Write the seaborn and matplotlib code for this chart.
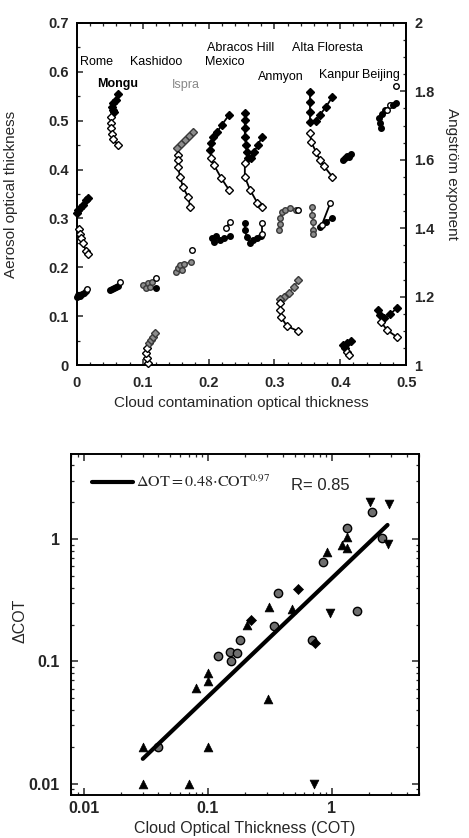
import numpy as np
import pandas as pd
import matplotlib
matplotlib.use("Agg")
import matplotlib.pyplot as plt
from matplotlib.ticker import MultipleLocator, FixedLocator, FixedFormatter, FuncFormatter, LogLocator, NullFormatter
import seaborn as sns

sns.set_style("ticks")
plt.rcParams['font.family'] = ['Liberation Sans', 'DejaVu Sans']
plt.rcParams['mathtext.fontset'] = 'stix'

# ---------------- top panel data (x = cloud contamination OT) ----------------
# AOT series (left axis, circles) and Angstrom series (right axis, diamonds)
rome_aot_f_x = [0.000, 0.002, 0.005, 0.008, 0.011, 0.014]
rome_aot_f_y = [0.139, 0.143, 0.141, 0.145, 0.147, 0.151]
rome_aot_o_x = [0.015]
rome_aot_o_y = [0.156]
rome_ang_f_x = [0.000, 0.002, 0.005, 0.009, 0.014, 0.017]
rome_ang_f_y = [1.444, 1.453, 1.459, 1.468, 1.482, 1.488]
rome_ang_o_x = [0.003, 0.005, 0.006, 0.009, 0.014, 0.017]
rome_ang_o_y = [1.398, 1.383, 1.371, 1.357, 1.333, 1.325]

mongu_ang_f_x = [0.062, 0.059, 0.055, 0.053, 0.055, 0.056]
mongu_ang_f_y = [1.792, 1.775, 1.766, 1.754, 1.746, 1.740]
mongu_ang_o_x = [0.052, 0.052, 0.052, 0.053, 0.055, 0.062]
mongu_ang_o_y = [1.725, 1.708, 1.693, 1.675, 1.661, 1.643]
mongu_aot_f_x = [0.050, 0.053, 0.056, 0.059, 0.062]
mongu_aot_f_y = [0.153, 0.156, 0.158, 0.160, 0.162]
mongu_aot_o_x = [0.065]
mongu_aot_o_y = [0.170]

kash_aot_g_x = [0.100, 0.105, 0.108, 0.111, 0.114]
kash_aot_g_y = [0.164, 0.158, 0.168, 0.160, 0.170]
kash_aot_f_x = [0.120]
kash_aot_f_y = [0.158]
kash_aot_o_x = [0.120]
kash_aot_o_y = [0.178]
kash_ang_o_x = [0.108, 0.106, 0.105, 0.106]
kash_ang_o_y = [1.006, 1.020, 1.035, 1.050]
kash_ang_g_x = [0.109, 0.112, 0.116, 0.119]
kash_ang_g_y = [1.064, 1.073, 1.082, 1.094]

ispra_ang_g_x = [0.176, 0.170, 0.164, 0.158, 0.152]
ispra_ang_g_y = [1.681, 1.670, 1.658, 1.646, 1.635]
ispra_ang_o_x = [0.153, 0.153, 0.153, 0.157, 0.161, 0.169, 0.172]
ispra_ang_o_y = [1.614, 1.599, 1.579, 1.550, 1.520, 1.491, 1.462]
ispra_aot_g_x = [0.150, 0.153, 0.157, 0.160, 0.163, 0.173]
ispra_aot_g_y = [0.190, 0.199, 0.205, 0.194, 0.207, 0.211]
ispra_aot_o_x = [0.175]
ispra_aot_o_y = [0.235]

abr_ang_f_x = [0.231, 0.220, 0.213, 0.207, 0.204, 0.202]
abr_ang_f_y = [1.731, 1.702, 1.681, 1.667, 1.649, 1.629]
abr_ang_o_x = [0.204, 0.208, 0.219, 0.231]
abr_ang_o_y = [1.605, 1.585, 1.547, 1.512]
abr_aot_f_x = [0.205, 0.208, 0.211, 0.217, 0.223, 0.233]
abr_aot_f_y = [0.260, 0.252, 0.264, 0.256, 0.260, 0.264]
abr_aot_o_x = [0.226, 0.233]
abr_aot_o_y = [0.280, 0.293]

mex_ang_f_x = [0.255, 0.255, 0.255, 0.255, 0.257, 0.258, 0.260]
mex_ang_f_y = [1.737, 1.716, 1.693, 1.667, 1.643, 1.623, 1.605]
mex_ang_b_x = [0.281, 0.275, 0.269, 0.264]
mex_ang_b_y = [1.667, 1.643, 1.623, 1.605]
mex_ang_o_x = [0.255, 0.255, 0.263, 0.274, 0.281]
mex_ang_o_y = [1.591, 1.550, 1.512, 1.474, 1.462]
mex_aot_f_x = [0.255, 0.255, 0.258, 0.263, 0.267, 0.274, 0.280]
mex_aot_f_y = [0.291, 0.276, 0.262, 0.250, 0.256, 0.260, 0.264]
mex_aot_o_x = [0.281, 0.281]
mex_aot_o_y = [0.268, 0.291]

alta_aot_g_x = [0.307, 0.309, 0.309, 0.312, 0.316, 0.324, 0.333]
alta_aot_g_y = [0.276, 0.289, 0.301, 0.313, 0.317, 0.321, 0.317]
alta_aot_o_x = [0.336]
alta_aot_o_y = [0.317]
alta_ang_g_x = [0.336, 0.330, 0.322, 0.315, 0.309]
alta_ang_g_y = [1.249, 1.228, 1.211, 1.199, 1.193]
alta_ang_o_x = [0.309, 0.309, 0.310, 0.319, 0.336]
alta_ang_o_y = [1.181, 1.161, 1.140, 1.114, 1.099]

anm_ang_f_x = [0.354, 0.354, 0.354, 0.354]
anm_ang_f_y = [1.798, 1.769, 1.740, 1.711]
anm_ang_b_x = [0.388, 0.378, 0.369, 0.363]
anm_ang_b_y = [1.784, 1.754, 1.731, 1.713]
anm_ang_o_x = [0.354, 0.356, 0.363, 0.369, 0.375, 0.388]
anm_ang_o_y = [1.678, 1.652, 1.623, 1.599, 1.582, 1.550]
anm_aot_g_x = [0.357, 0.357, 0.359, 0.359, 0.359]
anm_aot_g_y = [0.323, 0.307, 0.293, 0.276, 0.268]
anm_aot_f_x = [0.369, 0.378, 0.388]
anm_aot_f_y = [0.282, 0.293, 0.301]
anm_aot_o_x = [0.372, 0.385]
anm_aot_o_y = [0.287, 0.332]

kan_aot_f_x = [0.404, 0.407, 0.410, 0.413, 0.416]
kan_aot_f_y = [0.420, 0.424, 0.428, 0.426, 0.432]
kan_ang_f_x = [0.416, 0.410, 0.404, 0.407]
kan_ang_f_y = [1.070, 1.064, 1.058, 1.050]
kan_ang_o_x = [0.410, 0.413]
kan_ang_o_y = [1.038, 1.029]

bei_aot_f_x = [0.462, 0.460, 0.459, 0.464, 0.468]
bei_aot_f_y = [0.485, 0.495, 0.506, 0.514, 0.522]
bei_aot_o_x = [0.471, 0.476]
bei_aot_o_y = [0.522, 0.532]
bei_aot_b_x = [0.480, 0.485]
bei_aot_b_y = [0.532, 0.536]
bei_aot_p_x = [0.485]
bei_aot_p_y = [0.571]
bei_ang_f_x = [0.457, 0.460, 0.466, 0.476, 0.486]
bei_ang_f_y = [1.161, 1.146, 1.137, 1.149, 1.167]
bei_ang_o_x = [0.462, 0.471, 0.486]
bei_ang_o_y = [1.126, 1.102, 1.082]

site_names = ["Rome", "Kashidoo", "Abracos Hill", "Mexico", "Alta Floresta",
              "Mongu", "Ispra", "Anmyon", "Kanpur", "Beijing"]
site_label_x = [0.005, 0.081, 0.198, 0.195, 0.326, 0.030, 0.144, 0.275, 0.368, 0.433]
site_label_y = [0.621, 0.621, 0.648, 0.620, 0.648, 0.575, 0.573, 0.590, 0.594, 0.594]

# ---------------- bottom panel data ----------------
tri_up_x = [1.32, 1.20, 1.32, 0.91, 0.31, 0.48, 0.206, 0.10, 0.10, 0.08, 0.030, 0.10, 0.030, 0.0703, 0.305]
tri_up_y = [1.04, 0.89, 0.845, 0.78, 0.279, 0.27, 0.20, 0.0805, 0.069, 0.0608, 0.020, 0.020, 0.010, 0.010, 0.0494]
tri_dn_x = [2.02, 2.88, 2.83, 0.96, 0.716]
tri_dn_y = [2.0, 1.93, 0.91, 0.25, 0.010]
circ_x = [2.10, 1.32, 2.53, 0.845, 0.367, 1.59, 0.34, 0.181, 0.12, 0.15, 0.171, 0.153, 0.0395, 0.69]
circ_y = [1.66, 1.23, 1.02, 0.65, 0.363, 0.258, 0.195, 0.150, 0.111, 0.12, 0.117, 0.10, 0.020, 0.15]
diam_x = [0.53, 0.222, 0.73]
diam_y = [0.39, 0.218, 0.142]
fit_a, fit_b = 0.48, 0.97
fit_range = [0.03, 2.8]

# ---------------- figure ----------------
fig = plt.figure(figsize=(4.69, 8.38), dpi=100)
ax1 = fig.add_axes([0.164, 0.5644, 0.702, 0.4082])
ax1r = ax1.twinx()
ax2 = fig.add_axes([0.151, 0.0513, 0.742, 0.4069])

GRAY = '#8c8c8c'
styles = {'f': ('k', 'k'), 'o': ('white', 'k'), 'g': (GRAY, '#3a3a3a'), 'p': ('white', 'k')}


def draw(ax, xs, ys, kind, marker):
    fc, ec = styles[kind]
    ms = 4.0 if marker == 'o' else 3.6
    lc = '#555555' if kind == 'g' else 'k'
    sns.lineplot(x=xs, y=ys, sort=False, estimator=None, ax=ax, color=lc, lw=1.3,
                 marker=marker, markersize=ms, markerfacecolor=fc, markeredgecolor=ec,
                 markeredgewidth=1.0, clip_on=False, zorder=3)


aot_series = [
    (rome_aot_f_x, rome_aot_f_y, 'f'), (rome_aot_o_x, rome_aot_o_y, 'o'),
    (mongu_aot_f_x, mongu_aot_f_y, 'f'), (mongu_aot_o_x, mongu_aot_o_y, 'o'),
    (kash_aot_g_x, kash_aot_g_y, 'g'), (kash_aot_f_x, kash_aot_f_y, 'f'), (kash_aot_o_x, kash_aot_o_y, 'o'),
    (ispra_aot_g_x, ispra_aot_g_y, 'g'), (ispra_aot_o_x, ispra_aot_o_y, 'o'),
    (abr_aot_f_x, abr_aot_f_y, 'f'), (abr_aot_o_x, abr_aot_o_y, 'o'),
    (mex_aot_f_x, mex_aot_f_y, 'f'), (mex_aot_o_x, mex_aot_o_y, 'o'),
    (alta_aot_g_x, alta_aot_g_y, 'g'), (alta_aot_o_x, alta_aot_o_y, 'o'),
    (anm_aot_g_x, anm_aot_g_y, 'g'), (anm_aot_f_x, anm_aot_f_y, 'f'), (anm_aot_o_x, anm_aot_o_y, 'o'),
    (kan_aot_f_x, kan_aot_f_y, 'f'),
    (bei_aot_f_x, bei_aot_f_y, 'f'), (bei_aot_o_x, bei_aot_o_y, 'o'), (bei_aot_b_x, bei_aot_b_y, 'f'),
    (bei_aot_p_x, bei_aot_p_y, 'p'),
]
ang_series = [
    (rome_ang_f_x, rome_ang_f_y, 'f'), (rome_ang_o_x, rome_ang_o_y, 'o'),
    (mongu_ang_f_x, mongu_ang_f_y, 'f'), (mongu_ang_o_x, mongu_ang_o_y, 'o'),
    (kash_ang_o_x, kash_ang_o_y, 'o'), (kash_ang_g_x, kash_ang_g_y, 'g'),
    (ispra_ang_g_x, ispra_ang_g_y, 'g'), (ispra_ang_o_x, ispra_ang_o_y, 'o'),
    (abr_ang_f_x, abr_ang_f_y, 'f'), (abr_ang_o_x, abr_ang_o_y, 'o'),
    (mex_ang_f_x, mex_ang_f_y, 'f'), (mex_ang_b_x, mex_ang_b_y, 'f'), (mex_ang_o_x, mex_ang_o_y, 'o'),
    (alta_ang_g_x, alta_ang_g_y, 'g'), (alta_ang_o_x, alta_ang_o_y, 'o'),
    (anm_ang_f_x, anm_ang_f_y, 'f'), (anm_ang_b_x, anm_ang_b_y, 'f'), (anm_ang_o_x, anm_ang_o_y, 'o'),
    (kan_ang_f_x, kan_ang_f_y, 'f'), (kan_ang_o_x, kan_ang_o_y, 'o'),
    (bei_ang_f_x, bei_ang_f_y, 'f'), (bei_ang_o_x, bei_ang_o_y, 'o'),
]

for xs, ys, k in aot_series:
    draw(ax1, xs, ys, k, 'o')
for xs, ys, k in ang_series:
    draw(ax1r, xs, ys, k, 'D')

ax1.set_xlim(0, 0.5)
ax1.set_ylim(0, 0.7)
ax1r.set_ylim(1, 2)

ax1.xaxis.set_major_locator(MultipleLocator(0.1))
ax1.xaxis.set_minor_locator(MultipleLocator(0.02))
ax1.yaxis.set_major_locator(MultipleLocator(0.1))
ax1.yaxis.set_minor_locator(MultipleLocator(0.05))
ax1r.yaxis.set_major_locator(MultipleLocator(0.2))
ax1r.yaxis.set_minor_locator(MultipleLocator(0.05))
gfmt = FuncFormatter(lambda v, p: f"{v:g}")
ax1.xaxis.set_major_formatter(gfmt)
ax1.yaxis.set_major_formatter(gfmt)
ax1r.yaxis.set_major_formatter(gfmt)

ax1.tick_params(axis='x', which='both', direction='in', top=True, bottom=True, pad=8)
ax1.tick_params(axis='y', which='both', direction='in', left=True, right=False, pad=6)
ax1r.tick_params(axis='y', which='both', direction='in', right=True, left=False, pad=6)
for a in (ax1, ax1r):
    a.tick_params(which='major', length=4, width=1.1)
    a.tick_params(which='minor', length=2.2, width=0.9)
    for lab in a.get_xticklabels() + a.get_yticklabels():
        lab.set_fontsize(10.5)
        lab.set_fontweight('bold')
    for s in a.spines.values():
        s.set_linewidth(1.3)
        s.set_color('black')

ax1.set_xlabel("Cloud contamination optical thickness", fontsize=11)
ax1.set_ylabel("Aerosol optical thickness", fontsize=11)
ax1r.set_ylabel("Angström exponent", fontsize=11, rotation=270)
ax1.xaxis.set_label_coords(0.5, -0.09)
ax1.yaxis.set_label_coords(-0.18, 0.5)
ax1r.yaxis.set_label_coords(1.16, 0.56)

label_weights = ['normal', 'normal', 'normal', 'normal', 'normal', 'bold', 'normal', 'normal', 'normal', 'normal']
label_colors = ['k'] * 6 + ['#888888'] + ['k'] * 3
for name, lx, ly, w, c in zip(site_names, site_label_x, site_label_y, label_weights, label_colors):
    ax1.text(lx, ly, name, fontsize=9, fontweight=w, color=c, ha='left', va='center', zorder=5)

# ---------------- bottom panel ----------------
sns.scatterplot(x=circ_x, y=circ_y, ax=ax2, marker='o', s=36, color='#6e6e6e',
                edgecolor='black', linewidth=1.0, zorder=3)
sns.scatterplot(x=tri_up_x, y=tri_up_y, ax=ax2, marker='^', s=40, color='black',
                edgecolor='black', linewidth=0.5, zorder=3)
sns.scatterplot(x=tri_dn_x, y=tri_dn_y, ax=ax2, marker='v', s=40, color='black',
                edgecolor='black', linewidth=0.5, zorder=3)
sns.scatterplot(x=diam_x, y=diam_y, ax=ax2, marker='D', s=26, color='black',
                edgecolor='black', linewidth=0.5, zorder=3)

fit_x = np.array(fit_range)
fit_y = fit_a * fit_x ** fit_b
sns.lineplot(x=fit_x, y=fit_y, ax=ax2, color='black', lw=3.0, zorder=4,
             label=r'$\Delta\mathrm{OT} = 0.48{\cdot}\mathrm{COT}^{0.97}$')

ax2.set_xscale('log')
ax2.set_yscale('log')
ax2.set_xlim(0.0079, 5.0)
ax2.set_ylim(0.0081, 4.95)
for axis in (ax2.xaxis, ax2.yaxis):
    axis.set_major_locator(FixedLocator([0.01, 0.1, 1]))
    axis.set_major_formatter(FixedFormatter(["0.01", "0.1", "1"]))
    axis.set_minor_locator(LogLocator(base=10, subs=np.arange(2, 10)))
    axis.set_minor_formatter(NullFormatter())
ax2.tick_params(which='both', direction='in', top=True, right=True)
ax2.tick_params(which='major', length=5, width=1.1)
ax2.tick_params(which='minor', length=2.5, width=0.9)
ax2.tick_params(axis='x', pad=4)
ax2.tick_params(axis='y', pad=8)
for lab in ax2.get_xticklabels() + ax2.get_yticklabels():
    lab.set_fontsize(11.5)
    lab.set_fontweight('bold')
for s in ax2.spines.values():
    s.set_linewidth(1.4)
    s.set_color('black')

ax2.set_xlabel("Cloud Optical Thickness (COT)", fontsize=11.5)
ax2.set_ylabel("ΔCOT", fontsize=11.5)
ax2.xaxis.set_label_coords(0.5, -0.075)
ax2.yaxis.set_label_coords(-0.125, 0.51)

leg = ax2.legend(loc='center left', bbox_to_anchor=(0.06, 0.915), frameon=False,
                 handlelength=2.6, handletextpad=0.2, borderaxespad=0, borderpad=0,
                 prop={'family': 'Liberation Serif', 'size': 11.5})
ax2.text(0.632, 0.909, "R= 0.85", transform=ax2.transAxes, fontsize=12,
         ha='left', va='center')

fig.savefig("out.png", dpi=100, facecolor='white')
